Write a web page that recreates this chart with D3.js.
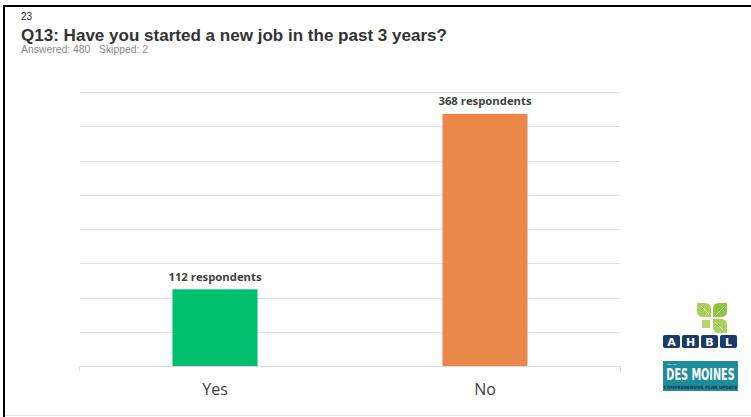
<!DOCTYPE html>
<html>
<head>
<meta charset="utf-8">
<script src="https://cdn.jsdelivr.net/npm/d3@7"></script>
<style>
  html, body { margin: 0; padding: 0; background: #fff; }
  svg { display: block; }
</style>
</head>
<body>
<script>
const slideNumber = "23";
const titleText = "Q13: Have you started a new job in the past 3 years?";
const subtitleText = "Answered: 480\u00a0\u00a0\u00a0Skipped: 2";
const categories = ["Yes", "No"];
const values = [112, 368];
const valueLabels = ["112 respondents", "368 respondents"];
const barColors = ["#00bf6f", "#ea874b"];
const yTicks = [0, 50, 100, 150, 200, 250, 300, 350, 400];

const W = 751, H = 417;
const svg = d3.select("body").append("svg").attr("width", W).attr("height", H);
svg.append("rect").attr("width", W).attr("height", H).attr("fill", "#fff");

// slide frame
svg.append("line").attr("x1", 3).attr("x2", W).attr("y1", 6).attr("y2", 6)
  .attr("stroke", "#000").attr("stroke-width", 2);
svg.append("line").attr("x1", 4).attr("x2", 4).attr("y1", 5).attr("y2", H)
  .attr("stroke", "#000").attr("stroke-width", 2);
svg.append("line").attr("x1", 5).attr("x2", W).attr("y1", 415.5).attr("y2", 415.5)
  .attr("stroke", "#e3e3e3").attr("stroke-width", 1);

// header texts
svg.append("text").attr("x", 21).attr("y", 20).text(slideNumber)
  .attr("font-family", "Liberation Sans, Arial, sans-serif").attr("font-size", 10).attr("fill", "#222");
svg.append("text").attr("x", 21).attr("y", 41).text(titleText)
  .attr("font-family", "Liberation Sans, Arial, sans-serif").attr("font-weight", "bold")
  .attr("font-size", 16).attr("fill", "#333")
  .attr("textLength", 426).attr("lengthAdjust", "spacingAndGlyphs");
svg.append("text").attr("x", 21).attr("y", 53).text(subtitleText)
  .attr("font-family", "Liberation Sans, Arial, sans-serif").attr("font-size", 10.4).attr("fill", "#8a8a8a");

// chart
const x = d3.scaleBand().domain(categories).range([80, 620]).paddingInner(0.685).paddingOuter(0.3425);
const y = d3.scaleLinear().domain([0, 400]).range([366, 92]);

const grid = svg.append("g");
grid.selectAll("line").data(yTicks.filter(d => d > 0)).join("line")
  .attr("x1", 80).attr("x2", 620)
  .attr("y1", d => Math.round(y(d)) + 0.5).attr("y2", d => Math.round(y(d)) + 0.5)
  .attr("stroke", "#e1e1e1").attr("stroke-width", 1);

svg.selectAll("rect.bar").data(categories).join("rect").attr("class", "bar")
  .attr("x", d => x(d)).attr("width", x.bandwidth())
  .attr("y", (d, i) => y(values[i])).attr("height", (d, i) => y(0) - y(values[i]))
  .attr("fill", (d, i) => barColors[i]);

// baseline axis
const xAxis = svg.append("g").attr("transform", `translate(0,${Math.round(y(0)) + 0.5})`);
xAxis.append("line").attr("x1", 79.5).attr("x2", 620.5).attr("stroke", "#d9d9d9");
xAxis.selectAll("line.tick").data([79.5, 620.5]).join("line").attr("class", "tick")
  .attr("x1", d => d).attr("x2", d => d).attr("y1", 0).attr("y2", 5).attr("stroke", "#d9d9d9");

svg.selectAll("text.cat").data(categories).join("text").attr("class", "cat")
  .attr("x", d => x(d) + x.bandwidth() / 2).attr("y", 395)
  .attr("text-anchor", "middle").text(d => d)
  .attr("font-family", "Open Sans, sans-serif").attr("font-size", 16).attr("fill", "#404040");

svg.selectAll("text.val").data(categories).join("text").attr("class", "val")
  .attr("x", d => x(d) + x.bandwidth() / 2).attr("y", (d, i) => y(values[i]) - 8.5)
  .attr("text-anchor", "middle").text((d, i) => valueLabels[i])
  .attr("font-family", "Open Sans, sans-serif").attr("font-weight", "bold")
  .attr("font-size", 11.3).attr("fill", "#404040");

// logos
const logo = svg.append("g");
// leaf mark
const leaf = logo.append("g").attr("transform", "translate(712,318)");
const petal = "M0,-1 L0,-9 Q0,-15 6,-15 L14,-15 L14,-7 Q14,-1 8,-1 Z";
[0, 90, 180, 270].forEach((r, i) => {
  if (r === 180) return;
  leaf.append("path").attr("d", petal).attr("transform", `rotate(${r}) translate(1,0)`)
    .attr("fill", i % 2 ? "#a9d05a" : "#8cc63f");
  leaf.append("path").attr("d", "M3,-3 L11,-11").attr("transform", `rotate(${r}) translate(1,0)`)
    .attr("stroke", "#fff").attr("stroke-width", 1);
});
leaf.append("rect").attr("x", -10).attr("y", 2).attr("width", 8).attr("height", 8).attr("fill", "#b5d86a");
const letters = ["A", "H", "B", "L"];
logo.selectAll("g.box").data(letters).join("g").attr("class", "box")
  .attr("transform", (d, i) => `translate(${663 + i * 19},335)`)
  .each(function(d) {
    const g = d3.select(this);
    g.append("rect").attr("width", 17).attr("height", 13).attr("rx", 2).attr("fill", "#1b3a6b");
    g.append("text").attr("x", 8.5).attr("y", 11).attr("text-anchor", "middle").text(d)
      .attr("font-family", "DejaVu Sans, sans-serif").attr("font-weight", "bold")
      .attr("font-size", 11).attr("fill", "#fff");
  });
logo.append("rect").attr("x", 663).attr("y", 361).attr("width", 75).attr("height", 30).attr("fill", "#1f8c9c");
logo.append("text").attr("x", 700.5).attr("y", 380).attr("text-anchor", "middle").text("DES MOINES")
  .attr("font-family", "DejaVu Sans Condensed, sans-serif").attr("font-weight", "bold")
  .attr("font-size", 10.8).attr("fill", "#fff")
  .attr("transform", "translate(700.5,380) scale(1,1.45) translate(-700.5,-380)");
logo.append("text").attr("x", 700.5).attr("y", 388.5).attr("text-anchor", "middle").text("COMPREHENSIVE PLAN UPDATE")
  .attr("font-family", "DejaVu Sans Condensed, sans-serif").attr("font-weight", "bold")
  .attr("font-size", 4.6).attr("fill", "#12304f");
logo.append("text").attr("x", 667).attr("y", 364.5).text("CITY OF")
  .attr("font-family", "Liberation Sans, sans-serif").attr("font-size", 2.5).attr("fill", "#fff");
</script>
</body>
</html>
